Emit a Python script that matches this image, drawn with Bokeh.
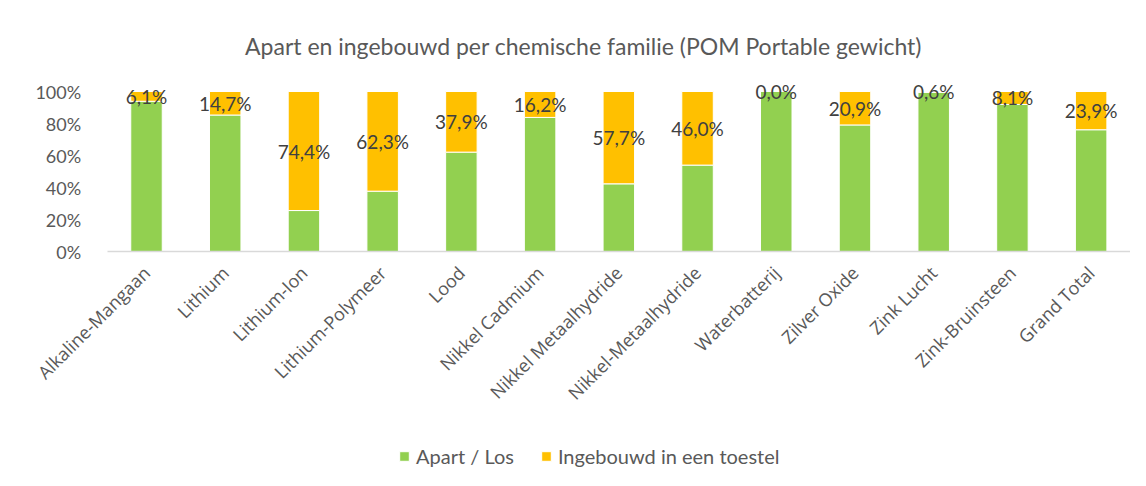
import math
from bokeh.plotting import figure
from bokeh.models import (ColumnDataSource, NumeralTickFormatter, Legend, LegendItem,
                          Range1d, LabelSet, FixedTicker, Label)
from bokeh.core.properties import value
from bokeh.embed import file_html
from bokeh.resources import INLINE

categories = ["Alkaline-Mangaan", "Lithium", "Lithium-Ion", "Lithium-Polymeer", "Lood",
              "Nikkel Cadmium", "Nikkel Metaalhydride", "Nikkel-Metaalhydride", "Waterbatterij",
              "Zilver Oxide", "Zink Lucht", "Zink-Bruinsteen", "Grand Total"]
apart_los = [0.939, 0.853, 0.256, 0.377, 0.621, 0.838, 0.423, 0.540, 1.000, 0.791, 0.994, 0.919, 0.761]
ingebouwd = [0.061, 0.147, 0.744, 0.623, 0.379, 0.162, 0.577, 0.460, 0.000, 0.209, 0.006, 0.081, 0.239]
series_names = ["Apart / Los", "Ingebouwd in een toestel"]
series_colors = ["#92D050", "#FFC000"]
y_ticks = [0, 0.2, 0.4, 0.6, 0.8, 1.0]
title_text = "Apart en ingebouwd per chemische familie (POM Portable gewicht)"

cat_index = list(range(len(categories)))
label_y = [a + i / 2 for a, i in zip(apart_los, ingebouwd)]
label_text = [f"{v * 100:.1f}%".replace(".", ",") for v in ingebouwd]

source = ColumnDataSource(dict(xi=cat_index, apart=apart_los, inge=ingebouwd,
                               ly=label_y, lt=label_text))

FONT = "Lato"
GREY = "#595959"

# frame covers the whole canvas so axes/legend/title are drawn inside it
FRAME_W, FRAME_H = 1130, 478
PX_PER_CAT = 78.72
X0_PX = 146            # pixel centre of first category
PX_PER_UNIT_Y = 160
Y0_PX = 251            # pixel of 0 %
x_start = -X0_PX / PX_PER_CAT
x_end = x_start + FRAME_W / PX_PER_CAT
y_start = -(FRAME_H - Y0_PX) / PX_PER_UNIT_Y
y_end = y_start + FRAME_H / PX_PER_UNIT_Y

p = figure(x_range=Range1d(x_start, x_end), y_range=Range1d(y_start, y_end),
           frame_width=FRAME_W, frame_height=FRAME_H, title=None,
           min_border_left=0, min_border_right=0, min_border_top=0, min_border_bottom=0,
           output_backend="svg", toolbar_location=None)

renderers = p.vbar_stack(["apart", "inge"], x="xi", width=0.4, color=series_colors,
                         line_color="white", line_width=1, source=source)

labels = LabelSet(x="xi", y="ly", text="lt", source=source, text_align="center",
                  text_baseline="middle", text_font=value(FONT), text_font_size="19px",
                  text_color="#404040")
p.add_layout(labels)

title = Label(x=583, y=FRAME_H - 45, x_units="screen", y_units="screen", text=title_text,
              text_align="center", text_baseline="middle", text_font=FONT,
              text_font_size="23px", text_color=GREY)
p.add_layout(title)

p.xgrid.visible = False
p.ygrid.visible = False
p.outline_line_color = None

xa = p.xaxis[0]
xa.fixed_location = 0
xa.bounds = (-0.5, len(categories) - 0.5)
xa.ticker = FixedTicker(ticks=cat_index)
xa.major_label_overrides = {i: c for i, c in zip(cat_index, categories)}
xa.major_label_orientation = math.pi / 4
xa.major_tick_line_color = None
xa.minor_tick_line_color = None
xa.axis_line_color = "#d9d9d9"
xa.axis_line_width = 1.5
xa.major_label_text_font = "Open Sans"
xa.major_label_text_font_size = "18px"
xa.major_label_text_color = GREY
xa.major_label_standoff = 12

ya = p.yaxis[0]
ya.fixed_location = -0.5
ya.ticker = FixedTicker(ticks=y_ticks)
ya.formatter = NumeralTickFormatter(format="0%")
ya.axis_line_color = None
ya.major_tick_line_color = None
ya.minor_tick_line_color = None
ya.major_label_text_font = FONT
ya.major_label_text_font_size = "18px"
ya.major_label_text_color = GREY
ya.major_label_standoff = 20

legend = Legend(items=[LegendItem(label=n, renderers=[r]) for n, r in zip(series_names, renderers)],
                location=(398, 10), orientation="horizontal",
                label_text_font=FONT, label_text_font_size="20px", label_text_color=GREY,
                glyph_width=12, glyph_height=12, spacing=26, label_standoff=6,
                padding=0, margin=0, border_line_color=None, background_fill_alpha=0)
p.add_layout(legend, "center")

open("out.html", "w").write(file_html(p, INLINE))
